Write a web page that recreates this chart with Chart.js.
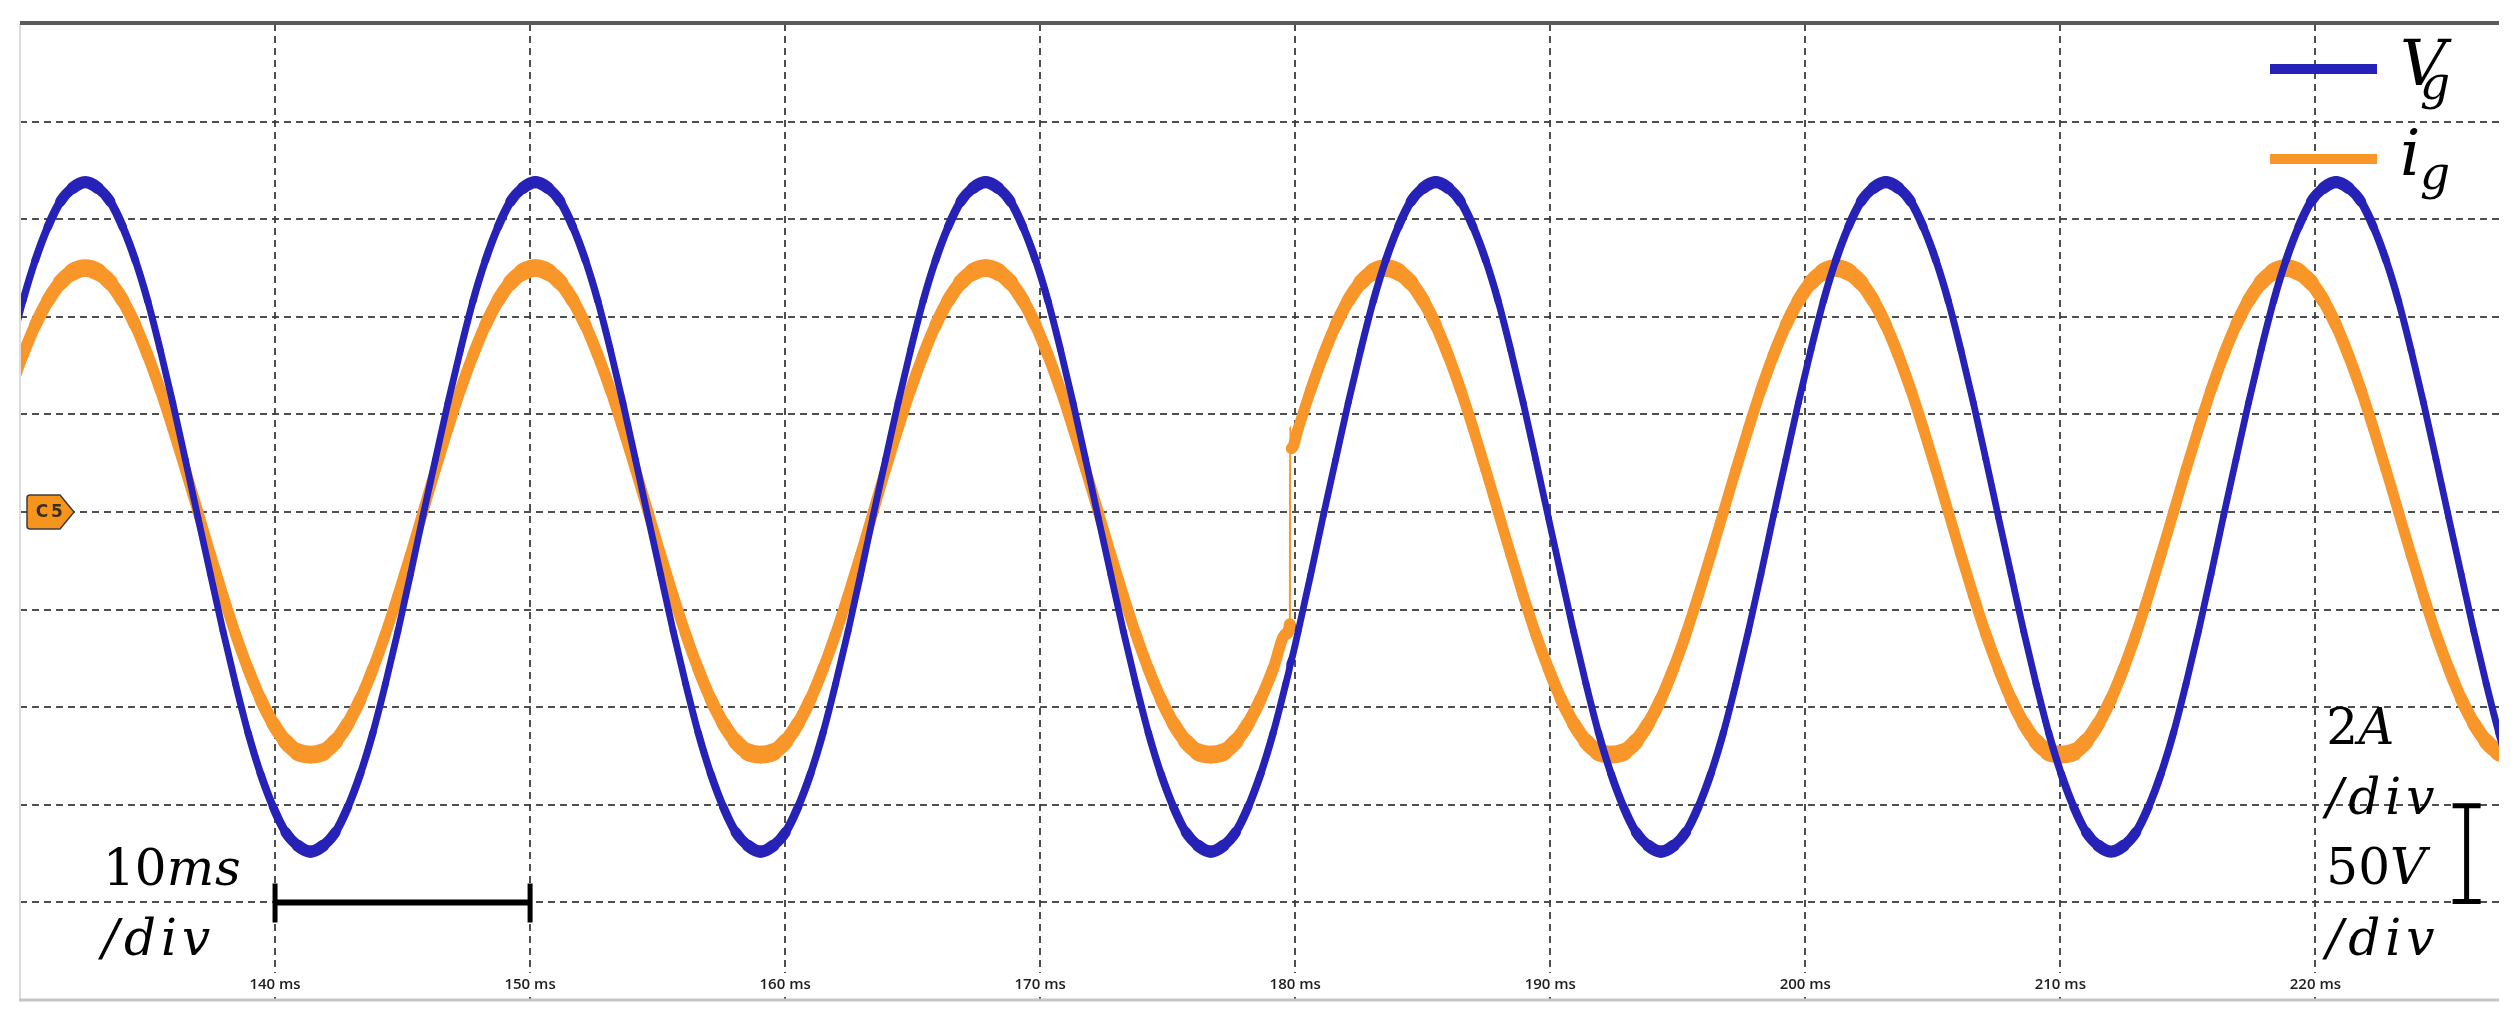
<!DOCTYPE html>
<html>
<head>
<meta charset="utf-8">
<script src="https://cdn.jsdelivr.net/npm/chart.js@4/dist/chart.umd.min.js"></script>
<style>
  html, body { margin: 0; padding: 0; background: #ffffff; }
  #wrap { width: 2520px; height: 1030px; position: relative; }
</style>
</head>
<body>
<div id="wrap"><canvas id="c" width="2520" height="1030"></canvas></div>
<script>
// ---------------- DATA ----------------
// sample times in ms
const timeMs = [
  129.62,130.11,130.60,131.09,131.58,132.07,132.56,133.05,133.54,134.03,134.52,135.01,135.50,135.99,136.48,136.98,137.47,137.96,138.45,138.94,139.43,139.92,140.41,140.90,141.39,141.88,142.37,142.86,143.35,143.84,144.33,144.82,145.31,
  145.80,146.29,146.78,147.27,147.76,148.25,148.74,149.23,149.72,150.21,150.70,151.19,151.68,152.17,152.66,153.15,153.64,154.13,154.63,155.12,155.61,156.10,156.59,157.08,157.57,158.06,158.55,159.04,159.53,160.02,160.51,161.00,161.49,161.98,162.47,162.96,
  163.45,163.94,164.43,164.92,165.41,165.90,166.39,166.88,167.37,167.86,168.35,168.84,169.33,169.82,170.31,170.80,171.29,171.78,172.28,172.77,173.26,173.75,174.24,174.73,175.22,175.71,176.20,176.69,177.18,177.67,178.16,178.65,179.14,179.63,
  179.79,179.80,179.85,
  180.12,180.61,
  181.10,181.59,182.08,182.57,183.06,183.55,184.04,184.53,185.02,185.51,186.00,186.49,186.98,187.47,187.96,188.45,188.94,189.43,189.93,190.42,190.91,191.40,191.89,192.38,192.87,193.36,193.85,194.34,194.83,195.32,195.81,196.30,196.79,197.28,197.77,198.26,
  198.75,199.24,199.73,200.22,200.71,201.20,201.69,202.18,202.67,203.16,203.65,204.14,204.63,205.12,205.61,206.10,206.59,207.08,207.58,208.07,208.56,209.05,209.54,210.03,210.52,211.01,211.50,211.99,212.48,212.97,213.46,213.95,214.44,214.93,215.42,215.91,
  216.40,216.89,217.38,217.87,218.36,218.85,219.34,219.83,220.32,220.81,221.30,221.79,222.28,222.77,223.26,223.75,224.24,224.73,225.23,225.72,226.21,226.70,227.19,227.68
];
// grid voltage Vg in volts (50 V/div)
const vg = [
  83,108,129,146,159,166,169,166,159,146,129,108,83,56,27,-3,-32,-61,-88,-113,-134,-151,-164,-171,-174,-171,-164,-151,-134,-113,-88,-61,-32,
  -2,27,56,83,108,129,146,159,166,169,166,159,146,129,108,83,56,27,-3,-32,-61,-88,-113,-134,-151,-164,-171,-174,-171,-164,-151,-134,-113,-88,-61,-32,
  -2,27,56,83,108,129,146,159,166,169,166,159,146,129,108,83,56,27,-3,-32,-61,-88,-113,-134,-151,-164,-171,-174,-171,-164,-151,-134,-113,-88,
  -79,-78,-76,
  -61,-32,
  -2,27,56,83,108,129,146,159,166,169,166,159,146,129,108,83,56,27,-3,-32,-61,-88,-113,-134,-151,-164,-171,-174,-171,-164,-151,-134,-113,-88,-61,-32,
  -2,27,56,83,108,129,146,159,166,169,166,159,146,129,108,83,56,27,-3,-32,-61,-88,-113,-134,-151,-164,-171,-174,-171,-164,-151,-134,-113,-88,-61,-32,
  -2,27,56,83,108,129,146,159,166,169,166,159,146,129,108,83,56,27,-3,-32,-61,-88,-113,-134
];
// grid current ig in amperes (2 A/div)
const ig = [
  2.5,3.21,3.83,4.33,4.7,4.92,5,4.92,4.7,4.33,3.83,3.21,2.5,1.71,0.87,0,-0.87,-1.71,-2.5,-3.21,-3.83,-4.33,-4.7,-4.92,-4.97,-4.92,-4.7,-4.33,-3.83,-3.21,-2.5,-1.71,-0.87,
  0,0.87,1.71,2.5,3.21,3.83,4.33,4.7,4.92,5,4.92,4.7,4.33,3.83,3.21,2.5,1.71,0.87,0,-0.87,-1.71,-2.5,-3.21,-3.83,-4.33,-4.7,-4.92,-4.97,-4.92,-4.7,-4.33,-3.83,-3.21,-2.5,-1.71,-0.87,
  0,0.87,1.71,2.5,3.21,3.83,4.33,4.7,4.92,5,4.92,4.7,4.33,3.83,3.21,2.5,1.71,0.87,0,-0.87,-1.71,-2.5,-3.21,-3.83,-4.33,-4.7,-4.92,-4.97,-4.92,-4.7,-4.33,-3.83,-3.21,-2.5,
  -2.3,1.75,1.3,
  1.71,2.5,
  3.21,3.83,4.33,4.7,4.92,5,4.92,4.7,4.33,3.83,3.21,2.5,1.71,0.87,0,-0.87,-1.71,-2.5,-3.21,-3.83,-4.33,-4.7,-4.92,-4.97,-4.92,-4.7,-4.33,-3.83,-3.21,-2.5,-1.71,-0.87,0,0.87,1.71,2.5,
  3.21,3.83,4.33,4.7,4.92,5,4.92,4.7,4.33,3.83,3.21,2.5,1.71,0.87,0,-0.87,-1.71,-2.5,-3.21,-3.83,-4.33,-4.7,-4.92,-4.97,-4.92,-4.7,-4.33,-3.83,-3.21,-2.5,-1.71,-0.87,0,0.87,1.71,2.5,
  3.21,3.83,4.33,4.7,4.92,5,4.92,4.7,4.33,3.83,3.21,2.5,1.71,0.87,0,-0.87,-1.71,-2.5,-3.21,-3.83,-4.33,-4.7,-4.92,-4.97
];
const seriesLabels = ['Vg', 'ig'];
const xTickValues = [140, 150, 160, 170, 180, 190, 200, 210, 220];   // ms
const yTickValues = [-250, -200, -150, -100, -50, 0, 50, 100, 150, 200, 250]; // V (50 V/div)
const jumpTime = 179.80;              // ms, current step
const timeBar = [140, 150];           // 10 ms/div scale bar
const timeBarLevel = -200;            // V
const ampBarTime = 225.93;            // ms
const ampBar = [-150, -200];          // V (one division)
const channelMarkerLevel = 0;         // V, "C5" marker

// ---------------- STYLE ----------------
const BLUE = '#2622B7';
const ORANGE = '#F8962A';
const GRID = 'rgba(60,60,60,0.9)';
const jumpIdx = timeMs.indexOf(jumpTime);

// trace looks thicker where it is flat (scope noise band)
function bandWidth(c, base, extra) {
  const dx = c.p1.x - c.p0.x, dy = c.p1.y - c.p0.y;
  const len = Math.hypot(dx, dy);
  if (len < 4) return base;
  return base + extra * Math.abs(dx) / len;
}

function drawRich(ctx, parts, x, yb, size, spacing) {
  let cx = x;
  for (const p of parts) {
    ctx.font = (p[1] ? 'italic ' : '') + size + 'px "DejaVu Serif"';
    ctx.letterSpacing = p[1] ? (spacing || '0px') : '0px';
    ctx.fillText(p[0], cx, yb);
    cx += ctx.measureText(p[0]).width;
  }
  ctx.letterSpacing = '0px';
}

const decorations = {
  id: 'decorations',
  afterDraw(chart) {
    const { ctx, chartArea: a, scales } = chart;
    const x = scales.x, y = scales.y;
    ctx.save();
    // frame
    ctx.strokeStyle = '#dcdcdc'; ctx.lineWidth = 2;
    ctx.beginPath(); ctx.moveTo(a.left, a.top); ctx.lineTo(a.left, a.bottom); ctx.stroke();
    ctx.strokeStyle = '#c6c6c6'; ctx.lineWidth = 3;
    ctx.beginPath(); ctx.moveTo(a.left - 1, a.bottom); ctx.lineTo(a.right, a.bottom); ctx.stroke();
    ctx.strokeStyle = '#5c5c5c'; ctx.lineWidth = 4;
    const yTop = y.getPixelForValue(250);
    ctx.beginPath(); ctx.moveTo(a.left, yTop - 1); ctx.lineTo(a.right, yTop - 1); ctx.stroke();

    // C5 channel marker
    const yc = y.getPixelForValue(channelMarkerLevel);
    const L = a.left + 7;
    ctx.beginPath();
    ctx.moveTo(L + 3, yc - 17);
    ctx.lineTo(L + 33, yc - 17);
    ctx.lineTo(L + 47, yc);
    ctx.lineTo(L + 33, yc + 17);
    ctx.lineTo(L + 3, yc + 17);
    ctx.quadraticCurveTo(L, yc + 17, L, yc + 14);
    ctx.lineTo(L, yc - 14);
    ctx.quadraticCurveTo(L, yc - 17, L + 3, yc - 17);
    ctx.closePath();
    ctx.fillStyle = '#F7941D'; ctx.fill();
    ctx.strokeStyle = '#3b3b3b'; ctx.lineWidth = 1.5; ctx.stroke();
    ctx.fillStyle = '#3a3020';
    ctx.font = 'bold 17px "DejaVu Sans"';
    ctx.textAlign = 'center'; ctx.textBaseline = 'middle';
    ctx.fillText('C', L + 15, yc + 1);
    ctx.fillText('5', L + 30, yc + 1);

    // 10 ms/div scale bar
    ctx.strokeStyle = '#000'; ctx.fillStyle = '#000';
    const by = y.getPixelForValue(timeBarLevel);
    const bx1 = x.getPixelForValue(timeBar[0]);
    const bx2 = x.getPixelForValue(timeBar[1]);
    ctx.lineWidth = 6;
    ctx.beginPath(); ctx.moveTo(bx1, by); ctx.lineTo(bx2, by); ctx.stroke();
    ctx.lineWidth = 5;
    ctx.beginPath(); ctx.moveTo(bx1, by - 19); ctx.lineTo(bx1, by + 20);
    ctx.moveTo(bx2, by - 19); ctx.lineTo(bx2, by + 20); ctx.stroke();

    // amplitude scale bar (one division)
    const ax = x.getPixelForValue(ampBarTime);
    const ay1 = y.getPixelForValue(ampBar[0]);
    const ay2 = y.getPixelForValue(ampBar[1]);
    ctx.lineWidth = 5;
    ctx.beginPath(); ctx.moveTo(ax, ay1); ctx.lineTo(ax, ay2); ctx.stroke();
    ctx.beginPath(); ctx.moveTo(ax - 14, ay1 + 1); ctx.lineTo(ax + 14, ay1 + 1);
    ctx.moveTo(ax - 14, ay2 - 1); ctx.lineTo(ax + 14, ay2 - 1); ctx.stroke();

    // scale texts
    ctx.textAlign = 'left'; ctx.textBaseline = 'alphabetic';
    ctx.fillStyle = '#000';
    const lx = bx1 - 172;
    drawRich(ctx, [['10', false], ['ms', true]], lx, by - 17, 50, '1px');
    drawRich(ctx, [['/div', true]], lx - 1, by + 53, 50, '5px');
    const rx = x.getPixelForValue(220) + 11;
    drawRich(ctx, [['2', false], ['A', true]], rx, y.getPixelForValue(-100) + 37, 50);
    drawRich(ctx, [['/div', true]], rx, y.getPixelForValue(-150) + 9, 50, '5px');
    drawRich(ctx, [['50', false], ['V', true]], rx, y.getPixelForValue(-200) - 18, 50);
    drawRich(ctx, [['/div', true]], rx, y.getPixelForValue(-200) + 53, 50, '5px');

    // legend (with subscripts)
    const ds = chart.data.datasets;
    ds.forEach((d, i) => {
      const ly = a.top + 45 + i * 90;
      ctx.strokeStyle = d.borderColor; ctx.lineWidth = 10; ctx.lineCap = 'butt';
      ctx.beginPath(); ctx.moveTo(a.right - 229, ly); ctx.lineTo(a.right - 122, ly); ctx.stroke();
      ctx.fillStyle = '#000';
      ctx.font = 'italic 64px "DejaVu Serif"';
      ctx.fillText(d.label.charAt(0), a.right - 99, ly + 16);
      ctx.font = 'italic 47px "DejaVu Serif"';
      ctx.fillText(d.label.slice(1), a.right - 79, ly + 30);
    });
    ctx.restore();
  }
};

const chart = new Chart(document.getElementById('c'), {
  type: 'line',
  data: {
    datasets: [
      {
        label: seriesLabels[0],
        data: timeMs.map((t, i) => ({ x: t, y: vg[i] })),
        borderColor: BLUE,
        borderWidth: 5.5,
        borderCapStyle: 'round',
        borderJoinStyle: 'round',
        pointRadius: 0,
        cubicInterpolationMode: 'monotone',
        yAxisID: 'y',
        segment: { borderWidth: c => bandWidth(c, 5, 8) }
      },
      {
        label: seriesLabels[1],
        data: timeMs.map((t, i) => ({ x: t, y: ig[i] })),
        borderColor: ORANGE,
        borderWidth: 8,
        borderCapStyle: 'round',
        borderJoinStyle: 'round',
        pointRadius: 0,
        cubicInterpolationMode: 'monotone',
        yAxisID: 'yI',
        segment: {
          borderWidth: c => ((c.p1DataIndex === jumpIdx || c.p1DataIndex === jumpIdx + 1) ? 2 : bandWidth(c, 8, 10))
        }
      }
    ]
  },
  options: {
    responsive: false,
    animation: false,
    devicePixelRatio: 1,
    layout: { padding: { left: 20, right: 21, top: 24, bottom: 0 } },
    plugins: { legend: { display: false }, tooltip: { enabled: false } },
    scales: {
      x: {
        type: 'linear',
        min: 130,
        max: 227.2,
        afterBuildTicks: s => { s.ticks = xTickValues.map(v => ({ value: v })); },
        afterFit: s => { s.height = 30; },
        grid: { color: GRID, lineWidth: 2, drawTicks: false },
        border: { display: false, dash: [7, 5] },
        ticks: {
          autoSkip: false,
          maxRotation: 0,
          mirror: true,
          padding: 6,
          color: '#1e1e1e',
          font: { family: '"Open Sans", sans-serif', size: 15, weight: '600' },
          callback: v => v + ' ms',
          showLabelBackdrop: true,
          backdropColor: '#ffffff',
          backdropPadding: { top: 3, bottom: 3, left: 2, right: 2 }
        }
      },
      y: {
        min: -250,
        max: 250,
        afterBuildTicks: s => { s.ticks = yTickValues.map(v => ({ value: v })); },
        afterFit: s => { s.width = 0; },
        grid: {
          color: c => (c.tick && (c.tick.value === 250 || c.tick.value === -250) ? 'rgba(0,0,0,0)' : GRID),
          lineWidth: 2,
          drawTicks: false
        },
        border: { display: false, dash: [7, 5] },
        ticks: { display: false }
      },
      yI: { display: false, min: -10, max: 10 }
    }
  },
  plugins: [decorations]
});
</script>
</body>
</html>
